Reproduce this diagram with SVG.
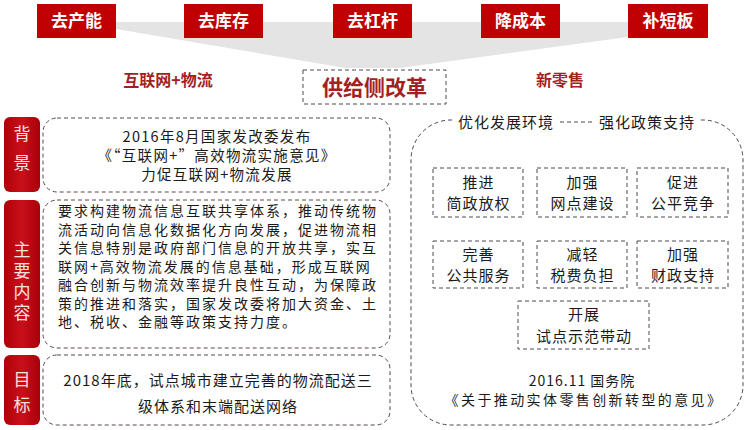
<svg xmlns="http://www.w3.org/2000/svg" width="747" height="430" viewBox="0 0 747 430">
<defs>
<linearGradient id="lab" x1="0" y1="0" x2="1" y2="0">
<stop offset="0" stop-color="#b00008"/>
<stop offset="0.5" stop-color="#c8101a"/>
<stop offset="1" stop-color="#a8000a"/>
</linearGradient>
<style>
text{font-family:"Noto Sans CJK SC","Noto Sans",sans-serif;}
.top{fill:#c00000;}
.toptx{fill:#ffffff;font-size:17px;font-weight:bold;text-anchor:middle;}
.red{fill:#a31f24;font-weight:bold;text-anchor:middle;}
.lab{fill:url(#lab);}
.labtx{fill:#fbe0e0;font-size:17px;text-anchor:middle;writing-mode:vertical-rl;}
.dash{fill:none;stroke:#4a4a4a;stroke-width:1;stroke-dasharray:4 3;}
.dashr{fill:none;stroke:#5a4848;stroke-width:1;stroke-dasharray:4 3;}
.tx{fill:#1a1a1a;font-size:15px;letter-spacing:1px;}
.c{text-anchor:middle;}
</style>
</defs>
<rect width="747" height="430" fill="#ffffff"/>
<polygon points="116,22 628,22 628,37 400,68 345,68 116,29" fill="#e4e4e4"/>
<g id="top-boxes">
<g id="b1"><rect class="top" x="37" y="4" width="79" height="34"/><text class="toptx" x="76.5" y="27">去产能</text></g>
<g id="b2"><rect class="top" x="184" y="4" width="79" height="34"/><text class="toptx" x="223.5" y="27">去库存</text></g>
<g id="b3"><rect class="top" x="333" y="4" width="79" height="34"/><text class="toptx" x="372.5" y="27">去杠杆</text></g>
<g id="b4"><rect class="top" x="481" y="4" width="79" height="34"/><text class="toptx" x="520.5" y="27">降成本</text></g>
<g id="b5"><rect class="top" x="628" y="4" width="80" height="34"/><text class="toptx" x="668" y="27">补短板</text></g>
</g>
<g id="center">
<rect x="303" y="70" width="143" height="34" fill="#ffffff" class="dash"/>
<text class="red" x="374.5" y="95" font-size="21">供给侧改革</text>
</g>
<text class="red" x="168" y="86" font-size="16">互联网+物流</text>
<text class="red" x="560" y="86" font-size="16">新零售</text>
<g id="labels">
<g id="l1"><rect class="lab" x="4" y="117" width="36" height="75" rx="6"/><text class="labtx" x="22" y="154.5" style="letter-spacing:12px">背景</text></g>
<g id="l2"><rect class="lab" x="4" y="200" width="36" height="148" rx="6"/><text class="labtx" x="22" y="283" style="letter-spacing:4px">主要内容</text></g>
<g id="l3"><rect class="lab" x="4" y="355" width="36" height="70" rx="6"/><text class="labtx" x="22" y="396" style="letter-spacing:8px">目标</text></g>
</g>
<g id="left-boxes">
<g id="bg"><rect class="dashr" x="43" y="118" width="347" height="74" rx="14"/>
<text class="tx c" style="font-size:14.5px;letter-spacing:1.3px"><tspan x="217" y="142">2016年8月国家发改委发布</tspan><tspan x="217" y="161">《“互联网+”高效物流实施意见》</tspan><tspan x="217" y="180">力促互联网+物流发展</tspan></text></g>
<g id="main"><rect class="dashr" x="43" y="200" width="347" height="148" rx="14"/>
<text class="tx" style="font-size:14px;letter-spacing:2px"><tspan x="58" y="216">要求构建物流信息互联共享体系，推动传统物</tspan><tspan x="58" y="234.5">流活动向信息化数据化方向发展，促进物流相</tspan><tspan x="58" y="253">关信息特别是政府部门信息的开放共享，实互</tspan><tspan x="58" y="271.5">联网+高效物流发展的信息基础，形成互联网</tspan><tspan x="58" y="290">融合创新与物流效率提升良性互动，为保障政</tspan><tspan x="58" y="308.5">策的推进和落实，国家发改委将加大资金、土</tspan><tspan x="58" y="327">地、税收、金融等政策支持力度。</tspan></text></g>
<g id="goal"><rect class="dashr" x="43" y="355" width="347" height="70" rx="14"/>
<text class="tx c"><tspan x="218" y="386">2018年底，试点城市建立完善的物流配送三</tspan><tspan x="218" y="412">级体系和末端配送网络</tspan></text></g>
</g>
<g id="right">
<path class="dash" d="M452,120 A40,40 0 0 0 411,160 L411,385 A40,40 0 0 0 451,425 L703,425 A40,40 0 0 0 743,385 L743,160 A40,40 0 0 0 703,120 L699,120 M560,122 L592,122"/>
<text class="tx c" x="506" y="128">优化发展环境</text>
<text class="tx c" x="647" y="128">强化政策支持</text>
<g id="r1"><rect class="dash" x="433" y="168" width="90" height="49"/><text class="tx c"><tspan x="478.5" y="188">推进</tspan><tspan x="478.5" y="209">简政放权</tspan></text></g>
<g id="r2"><rect class="dash" x="537" y="168" width="90" height="49"/><text class="tx c"><tspan x="582.5" y="188">加强</tspan><tspan x="582.5" y="209">网点建设</tspan></text></g>
<g id="r3"><rect class="dash" x="637" y="168" width="91" height="49"/><text class="tx c"><tspan x="683" y="188">促进</tspan><tspan x="683" y="209">公平竞争</tspan></text></g>
<g id="r4"><rect class="dash" x="433" y="241" width="90" height="47"/><text class="tx c"><tspan x="478.5" y="260">完善</tspan><tspan x="478.5" y="281">公共服务</tspan></text></g>
<g id="r5"><rect class="dash" x="537" y="241" width="90" height="47"/><text class="tx c"><tspan x="582.5" y="260">减轻</tspan><tspan x="582.5" y="281">税费负担</tspan></text></g>
<g id="r6"><rect class="dash" x="637" y="241" width="91" height="47"/><text class="tx c"><tspan x="683" y="260">加强</tspan><tspan x="683" y="281">财政支持</tspan></text></g>
<g id="r7"><rect class="dash" x="518" y="301" width="131" height="48"/><text class="tx c"><tspan x="584" y="320">开展</tspan><tspan x="584" y="342">试点示范带动</tspan></text></g>
<text class="tx c" style="font-size:14px"><tspan x="582" y="386">2016.11 国务院</tspan><tspan x="584" y="405" style="letter-spacing:2.4px">《关于推动实体零售创新转型的意见》</tspan></text>
</g>
</svg>
